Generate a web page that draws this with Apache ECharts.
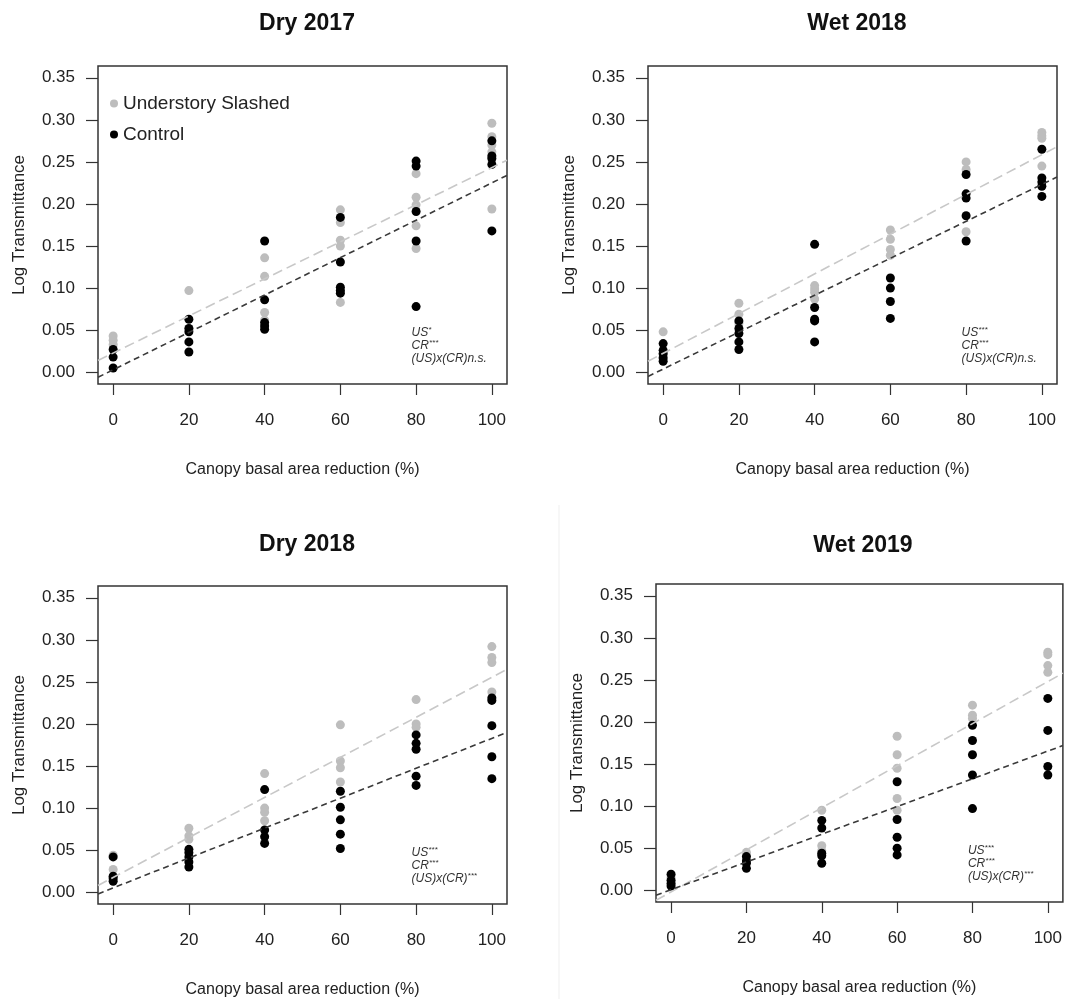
<!DOCTYPE html>
<html>
<head>
<meta charset="utf-8">
<script src="https://cdn.jsdelivr.net/npm/echarts@6/dist/echarts.min.js"></script>
<style>
  html, body { margin: 0; background: #fff; }
  #chart { width: 1065px; height: 999px; }
</style>
</head>
<body>
<div id="chart"></div>
<script>
const FONT = "'Liberation Sans', Arial, sans-serif";

// tick labels
const xTicks = [0, 20, 40, 60, 80, 100];
const yTicks = [0, 0.05, 0.1, 0.15, 0.2, 0.25, 0.3, 0.35];

const panelTitles = ["Dry 2017", "Wet 2018", "Dry 2018", "Wet 2019"];
const seriesNames = ["Understory Slashed", "Control"];

// points: [canopy reduction %, log transmittance]
const dry2017Slashed = [
  [0, 0.043], [0, 0.038], [0, 0.033],
  [20, 0.097], [20, 0.052],
  [40, 0.136], [40, 0.114], [40, 0.071], [40, 0.062],
  [60, 0.193], [60, 0.178], [60, 0.157], [60, 0.150], [60, 0.083],
  [80, 0.236], [80, 0.208], [80, 0.199], [80, 0.174], [80, 0.147],
  [100, 0.296], [100, 0.280], [100, 0.270], [100, 0.262], [100, 0.194]
];
const dry2017Control = [
  [0, 0.027], [0, 0.018], [0, 0.005],
  [20, 0.063], [20, 0.052], [20, 0.048], [20, 0.036], [20, 0.024],
  [40, 0.156], [40, 0.086], [40, 0.059], [40, 0.055], [40, 0.051],
  [60, 0.184], [60, 0.131], [60, 0.101], [60, 0.097], [60, 0.094],
  [80, 0.251], [80, 0.245], [80, 0.191], [80, 0.156], [80, 0.078],
  [100, 0.275], [100, 0.257], [100, 0.254], [100, 0.247], [100, 0.168]
];
const wet2018Slashed = [
  [0, 0.048], [0, 0.022], [0, 0.018],
  [20, 0.082], [20, 0.069], [20, 0.058],
  [40, 0.103], [40, 0.099], [40, 0.095], [40, 0.087],
  [60, 0.169], [60, 0.158], [60, 0.146], [60, 0.139],
  [80, 0.250], [80, 0.241], [80, 0.167],
  [100, 0.285], [100, 0.281], [100, 0.278], [100, 0.245]
];
const wet2018Control = [
  [0, 0.034], [0, 0.026], [0, 0.022], [0, 0.017], [0, 0.013],
  [20, 0.061], [20, 0.052], [20, 0.046], [20, 0.036], [20, 0.027],
  [40, 0.152], [40, 0.077], [40, 0.063], [40, 0.061], [40, 0.036],
  [60, 0.112], [60, 0.100], [60, 0.084], [60, 0.064],
  [80, 0.235], [80, 0.212], [80, 0.207], [80, 0.186], [80, 0.156],
  [100, 0.265], [100, 0.231], [100, 0.226], [100, 0.221], [100, 0.209]
];
const dry2018Slashed = [
  [0, 0.044], [0, 0.027], [0, 0.015],
  [20, 0.076], [20, 0.067], [20, 0.063],
  [40, 0.141], [40, 0.100], [40, 0.095], [40, 0.085],
  [60, 0.199], [60, 0.156], [60, 0.148], [60, 0.131],
  [80, 0.229], [80, 0.200], [80, 0.196],
  [100, 0.292], [100, 0.279], [100, 0.273], [100, 0.238]
];
const dry2018Control = [
  [0, 0.042], [0, 0.019], [0, 0.017], [0, 0.013],
  [20, 0.051], [20, 0.047], [20, 0.042], [20, 0.036], [20, 0.030],
  [40, 0.122], [40, 0.074], [40, 0.066], [40, 0.058],
  [60, 0.120], [60, 0.101], [60, 0.086], [60, 0.069], [60, 0.052],
  [80, 0.187], [80, 0.177], [80, 0.170], [80, 0.138], [80, 0.127],
  [100, 0.231], [100, 0.228], [100, 0.198], [100, 0.161], [100, 0.135]
];
const wet2019Slashed = [
  [0, 0.015],
  [20, 0.045], [20, 0.042],
  [40, 0.095], [40, 0.053], [40, 0.047],
  [60, 0.183], [60, 0.161], [60, 0.145], [60, 0.109], [60, 0.095],
  [80, 0.220], [80, 0.208], [80, 0.204],
  [100, 0.283], [100, 0.280], [100, 0.267], [100, 0.259]
];
const wet2019Control = [
  [0, 0.019], [0, 0.012], [0, 0.008], [0, 0.005],
  [20, 0.040], [20, 0.035], [20, 0.032], [20, 0.026],
  [40, 0.083], [40, 0.074], [40, 0.044], [40, 0.041], [40, 0.032],
  [60, 0.129], [60, 0.084], [60, 0.063], [60, 0.050], [60, 0.042],
  [80, 0.196], [80, 0.178], [80, 0.161], [80, 0.137], [80, 0.097],
  [100, 0.228], [100, 0.190], [100, 0.147], [100, 0.137]
];

// fitted lines, read at the plot edges (x = -4 and x = 104)
const fitSlashed = [[0.014, 0.252], [0.013, 0.268], [0.008, 0.265], [-0.012, 0.258]];
const fitControl = [[-0.006, 0.234], [-0.005, 0.232], [-0.002, 0.190], [-0.006, 0.172]];

// significance notes: [text, superscript]
const notes = [
  [["US", "*"], ["CR", "***"], ["(US)x(CR)n.s.", ""]],
  [["US", "***"], ["CR", "***"], ["(US)x(CR)n.s.", ""]],
  [["US", "***"], ["CR", "***"], ["(US)x(CR)", "***"]],
  [["US", "***"], ["CR", "***"], ["(US)x(CR)", "***"]]
];
const noteAnchor = [78.8, 0.047];

const slashedData = [dry2017Slashed, wet2018Slashed, dry2018Slashed, wet2019Slashed];
const controlData = [dry2017Control, wet2018Control, dry2018Control, wet2019Control];

const X_MIN = -4, X_MAX = 104, Y_MIN = -0.014, Y_MAX = 0.364;

const gridBoxes = [
  { left: 98, top: 66, width: 409, height: 318 },
  { left: 648, top: 66, width: 409, height: 318 },
  { left: 98, top: 586, width: 409, height: 318 },
  { left: 656, top: 584, width: 408, height: 318 }
];
const titlePos = [[302, 7], [852, 7], [302, 528], [858, 529]];

const chart = echarts.init(document.getElementById("chart"));

const grid = [], xAxis = [], yAxis = [], series = [], title = [];

gridBoxes.forEach((g, i) => {
  grid.push({ ...g, show: true, borderColor: "#333", borderWidth: 1.5 });

  xAxis.push({
    gridIndex: i, type: "value", min: X_MIN, max: X_MAX,
    axisLine: { show: false, onZero: false }, splitLine: { show: false },
    axisTick: { show: true, length: 11, customValues: xTicks, lineStyle: { color: "#333", width: 1.2 } },
    axisLabel: { customValues: xTicks, margin: 28, fontSize: 17, color: "#222", fontFamily: FONT },
    name: "Canopy basal area reduction (%)", nameLocation: "middle", nameGap: 78,
    nameTextStyle: { fontSize: 16, color: "#222", fontFamily: FONT }
  });

  yAxis.push({
    gridIndex: i, type: "value", min: Y_MIN, max: Y_MAX,
    axisLine: { show: false, onZero: false }, splitLine: { show: false },
    axisTick: { show: true, length: 12, customValues: yTicks, lineStyle: { color: "#333", width: 1.2 } },
    axisLabel: {
      customValues: yTicks, margin: 23, fontSize: 17, color: "#222", fontFamily: FONT,
      formatter: v => v.toFixed(2)
    },
    name: "Log Transmittance", nameLocation: "middle", nameGap: 70,
    nameTextStyle: { fontSize: 17, color: "#222", fontFamily: FONT }
  });

  title.push({
    text: panelTitles[i], left: titlePos[i][0], top: titlePos[i][1], textAlign: "center",
    textStyle: { fontSize: 23, fontWeight: "bold", color: "#111", fontFamily: FONT }
  });

  series.push({
    name: seriesNames[0], type: "scatter", xAxisIndex: i, yAxisIndex: i,
    symbolSize: 9, itemStyle: { color: "#bdbdbd", opacity: 1 },
    data: slashedData[i], silent: true
  });
  series.push({
    name: seriesNames[1], type: "scatter", xAxisIndex: i, yAxisIndex: i,
    symbolSize: 9, itemStyle: { color: "#000", opacity: 1 },
    data: controlData[i], silent: true
  });
  series.push({
    name: "fit slashed", type: "line", xAxisIndex: i, yAxisIndex: i,
    symbol: "none", silent: true,
    lineStyle: { color: "#c8c8c8", width: 1.6, type: [10, 5] },
    data: [[X_MIN, fitSlashed[i][0]], [X_MAX, fitSlashed[i][1]]]
  });
  series.push({
    name: "fit control", type: "line", xAxisIndex: i, yAxisIndex: i,
    symbol: "none", silent: true,
    lineStyle: { color: "#3a3a3a", width: 1.6, type: [6, 4] },
    data: [[X_MIN, fitControl[i][0]], [X_MAX, fitControl[i][1]]]
  });
});

chart.setOption({
  animation: false,
  title: title,
  grid: grid,
  xAxis: xAxis,
  yAxis: yAxis,
  legend: {
    data: seriesNames, orient: "vertical", left: 105, top: 89,
    icon: "circle", itemWidth: 8, itemHeight: 8, itemGap: 12,
    textStyle: { fontSize: 19, color: "#222", fontFamily: FONT }
  },
  series: series
});

// significance notes, anchored in data space
const graphic = [{
  type: "line", silent: true,
  shape: { x1: 559, y1: 505, x2: 559, y2: 999 },
  style: { stroke: "#efefef", lineWidth: 1 }
}];
notes.forEach((lines, i) => {
  const p = chart.convertToPixel({ gridIndex: i }, noteAnchor);
  lines.forEach((ln, k) => {
    graphic.push({
      type: "text", silent: true,
      x: p[0], y: p[1] + k * 13,
      style: {
        text: "{m|" + ln[0] + "}" + (ln[1] ? "{s|" + ln[1] + "}" : ""),
        verticalAlign: "middle",
        rich: {
          m: { fontSize: 12, fontStyle: "italic", fontFamily: FONT, fill: "#333", lineHeight: 13 },
          s: { fontSize: 8, fontStyle: "italic", fontFamily: FONT, fill: "#333", verticalAlign: "top", lineHeight: 13 }
        }
      }
    });
  });
});
chart.setOption({ graphic: graphic });
</script>
</body>
</html>
